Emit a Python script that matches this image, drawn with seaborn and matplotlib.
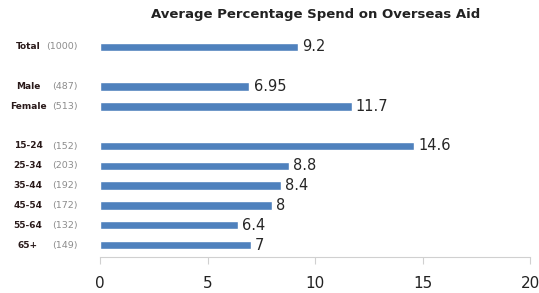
import numpy as np
import pandas as pd
import matplotlib
matplotlib.use("Agg")
import matplotlib.pyplot as plt
import seaborn as sns

# data
groups = ["Total", "gap1", "Male", "Female", "gap2",
          "15-24", "25-34", "35-44", "45-54", "55-64", "65+"]
names = ["Total", "", "Male", "Female", "", "15-24", "25-34", "35-44", "45-54", "55-64", "65+"]
counts = ["(1000)", "", "(487)", "(513)", "", "(152)", "(203)", "(192)", "(172)", "(132)", "(149)"]
values = [9.2, np.nan, 6.95, 11.7, np.nan, 14.6, 8.8, 8.4, 8, 6.4, 7]
value_labels = ["9.2", "", "6.95", "11.7", "", "14.6", "8.8", "8.4", "8", "6.4", "7"]

df = pd.DataFrame({"group": groups, "value": values})

sns.set_style("white")
plt.rcParams['font.family'] = ['DejaVu Sans']

fig = plt.figure(figsize=(5.39, 2.93), dpi=100)
ax = fig.add_axes([100 / 539, 36 / 293, 430 / 539, 222 / 293])

sns.barplot(data=df, x="value", y="group", order=groups, orient="h",
            color="#4f81bd", saturation=1, width=0.42, ax=ax)

for i, (v, lab) in enumerate(zip(values, value_labels)):
    if lab:
        ax.text(v + 0.2, i, lab, va="center", ha="left", fontsize=10.5, color="#262626")

# category labels: name + count in grey
trans = matplotlib.transforms.blended_transform_factory(fig.transFigure, ax.transData)
for i, (n, c) in enumerate(zip(names, counts)):
    if n:
        ax.text(28 / 539, i, n, transform=trans, ha="center", va="center",
                fontsize=6.5, fontweight="bold", color="#2a1a1a")
        ax.text(78 / 539, i, c, transform=trans, ha="right", va="center",
                fontsize=6.8, color="#8c8c8c")

ax.set_xlim(0, 20)
ax.set_ylim(10.6, -0.6)
ax.set_xticks([0, 5, 10, 15, 20])
ax.set_yticks([])
ax.set_xlabel("")
ax.set_ylabel("")
for s in ["top", "right", "left"]:
    ax.spines[s].set_visible(False)
ax.spines["bottom"].set_color("#d0d0d0")
ax.tick_params(axis="x", bottom=True, length=5, color="#d0d0d0",
               labelsize=11, labelcolor="#222222", pad=9)

fig.suptitle("Average Percentage Spend on Overseas Aid", x=316 / 539, y=1 - 8 / 293,
             va="top", fontsize=9.5, fontweight="bold", color="#222222")

fig.savefig("out.png", dpi=100)
